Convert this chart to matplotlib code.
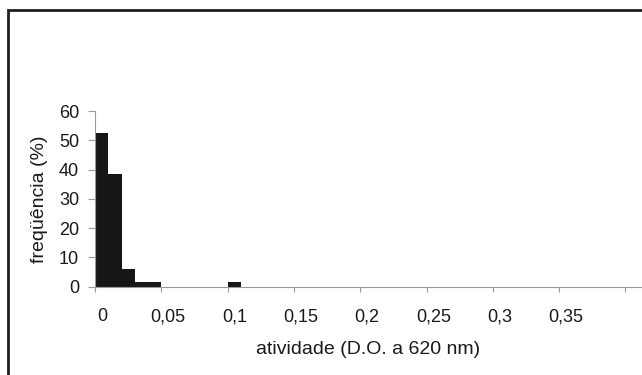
import matplotlib

matplotlib.use("Agg")

import matplotlib.pyplot as plt
from matplotlib.patches import Rectangle
from matplotlib.transforms import ScaledTranslation

# histogram of activity (bin left edges, width, % frequency)
bin_left = [0.0, 0.01, 0.02, 0.03, 0.04, 0.10]
bin_width = 0.01
freq = [52.6, 38.4, 5.9, 1.6, 1.6, 1.6]

x_ticks = [0, 0.05, 0.1, 0.15, 0.2, 0.25, 0.3, 0.35, 0.4]
x_labels = ["0", "0,05", "0,1", "0,15", "0,2", "0,25", "0,3", "0,35", ""]
y_ticks = [0, 10, 20, 30, 40, 50, 60]

plt.rcParams["font.family"] = ["Liberation Sans", "DejaVu Sans"]

fig = plt.figure(figsize=(6.42, 3.75), dpi=100)
ax = fig.add_axes([95 / 642, 88.3 / 375, 1 - 95 / 642, 175.7 / 375])

ax.bar(bin_left, freq, width=bin_width, align="edge", color="#161616", linewidth=0)

ax.set_xlim(0, 0.4125)
ax.set_ylim(0, 60)
ax.set_xticks(x_ticks)
ax.set_xticklabels(x_labels)
ax.set_yticks(y_ticks)

for side in ["top", "right"]:
    ax.spines[side].set_visible(False)
for side in ["left", "bottom"]:
    ax.spines[side].set_color("#9a9a9a")
    ax.spines[side].set_linewidth(0.8)

ax.tick_params(axis="both", colors="#9a9a9a", labelcolor="#1a1a1a", labelsize=13, width=0.8)
ax.tick_params(axis="y", length=5, pad=6.5)
ax.tick_params(axis="x", length=3.5, pad=12)

# x labels sit a little right of their ticks in the original
shift = ScaledTranslation(7 / 100, 0, fig.dpi_scale_trans)
for lbl in ax.get_xticklabels():
    lbl.set_transform(lbl.get_transform() + shift)

ax.set_xlabel("atividade (D.O. a 620 nm)", fontsize=14, color="#1a1a1a", labelpad=11)
ax.set_ylabel("freqüência (%)", fontsize=14, color="#1a1a1a", labelpad=8)

# outer frame of the original scan
fig.patches.append(
    Rectangle((8 / 642, -0.1), 1.2, 1 - 10 / 375 + 0.1, transform=fig.transFigure,
              fill=False, edgecolor="#1e1e1e", linewidth=2.0)
)

fig.savefig("out.png", dpi=100, facecolor="white")
